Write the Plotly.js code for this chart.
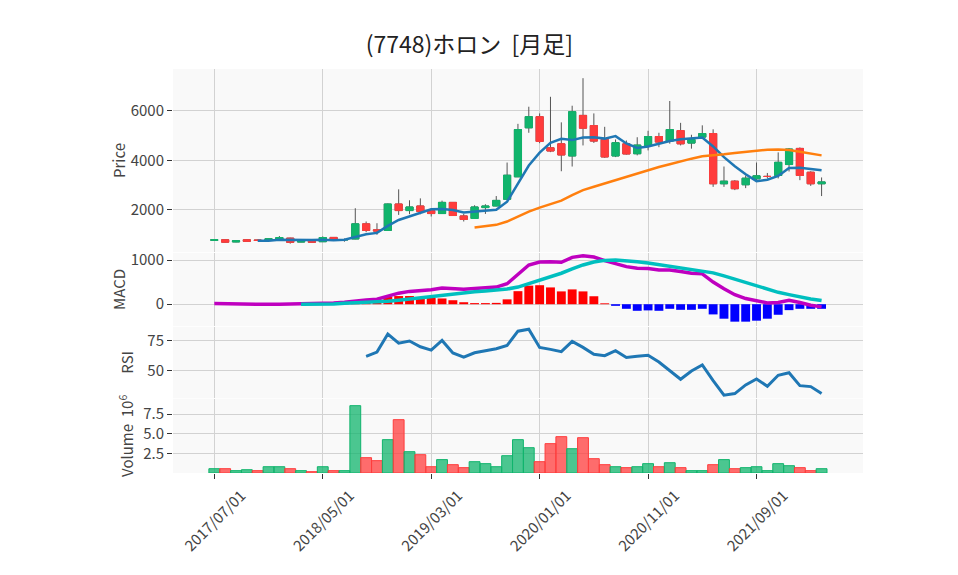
<!DOCTYPE html>
<html>
<head>
<meta charset="utf-8">
<script src="https://cdn.plot.ly/plotly-3.0.1.min.js"></script>
<style>html,body{margin:0;padding:0;background:#fff;}#chart{width:958px;height:575px;}</style>
</head>
<body>
<div id="chart"></div>
<script>
const dates = [
 '2017/07/01','2017/08/01','2017/09/01','2017/10/01','2017/11/01','2017/12/01',
 '2018/01/01','2018/02/01','2018/03/01','2018/04/01','2018/05/01','2018/06/01','2018/07/01','2018/08/01','2018/09/01','2018/10/01','2018/11/01','2018/12/01',
 '2019/01/01','2019/02/01','2019/03/01','2019/04/01','2019/05/01','2019/06/01','2019/07/01','2019/08/01','2019/09/01','2019/10/01','2019/11/01','2019/12/01',
 '2020/01/01','2020/02/01','2020/03/01','2020/04/01','2020/05/01','2020/06/01','2020/07/01','2020/08/01','2020/09/01','2020/10/01','2020/11/01','2020/12/01',
 '2021/01/01','2021/02/01','2021/03/01','2021/04/01','2021/05/01','2021/06/01','2021/07/01','2021/08/01','2021/09/01','2021/10/01','2021/11/01','2021/12/01',
 '2022/01/01','2022/02/01','2022/03/01'
];
const tickDates = ['2017/07/01','2018/05/01','2019/03/01','2020/01/01','2020/11/01','2021/09/01'];

const openP  = [775,800,710,800,790,775,800,865,705,800,720,893,795,830,1440,1200,1175,2240,1975,2160,1973,1855,2305,1760,1655,2095,2160,2430,3335,5310,5760,4505,4665,4175,5810,5400,4840,4175,4665,4265,4600,4960,4775,5200,4695,4935,5080,3055,3160,3015,3255,3350,3390,3830,4480,3520,3055];
const highP  = [810,810,770,820,800,850,950,880,810,810,935,905,850,2070,1535,1465,2260,2830,2390,2467,2000,2375,2320,1840,2190,2230,2560,3910,5470,6160,5890,6560,5530,6200,7310,5890,5350,4840,4800,4930,5190,5110,6390,5510,5030,5410,5250,3750,3200,3390,3910,3490,4320,4490,4520,3560,3310];
const lowP   = [770,680,700,720,750,770,790,640,700,680,710,790,720,820,1105,1000,1160,1800,1830,1827,1735,1840,1760,1535,1640,1840,2150,2420,3330,5110,4690,4330,3560,3750,4600,4700,4100,4130,4230,4200,4400,4530,4670,4600,4470,4900,2930,2930,2800,2880,3200,3270,3270,3550,3200,2970,2560];
const closeP = [800,700,760,735,770,840,890,695,800,695,890,800,805,1440,1175,1150,2240,1975,2120,1935,1855,2305,1775,1615,2120,2160,2385,3400,5240,5760,4760,4375,4215,5960,5295,4775,4135,4710,4255,4615,4960,4735,5240,4665,4840,5080,3055,3160,2855,3280,3375,3350,3920,4455,3390,3055,3130];

const ma5 = [null,null,null,null,755,760,800,785,800,785,795,775,800,925,1020,1075,1360,1595,1730,1885,2025,2040,2000,1900,1935,1995,2010,2335,3060,3790,4310,4705,4870,4815,4920,4925,4875,4975,4680,4500,4560,4680,4775,4850,4895,4915,4560,4130,3760,3440,3160,3215,3370,3690,3700,3640,3600];
const ma25 = [null,null,null,null,null,null,null,null,null,null,null,null,null,null,null,null,null,null,null,null,null,null,null,null,1293,1333,1400,1533,1733,1933,2093,2227,2373,2600,2800,2933,3067,3220,3360,3467,3600,3733,3840,3960,4067,4160,4187,4240,4293,4347,4387,4427,4440,4413,4347,4267,4200];

const macd = [15,8,3,0,-3,-3,-2,0,0,5,12,25,45,78,98,112,190,250,290,310,325,365,350,336,358,366,388,463,687,888,955,963,948,1060,1097,1067,985,910,851,813,806,776,776,739,701,687,500,351,216,127,75,30,37,90,37,-22,-60];
const signal = [null,null,null,null,null,null,null,null,0,0,2,7,20,28,36,45,65,92,120,150,175,205,235,258,280,298,321,343,388,463,537,612,701,798,888,955,992,1000,985,963,933,895,858,828,798,761,709,642,567,485,403,328,269,216,164,119,82];
const hist = [null,null,null,null,null,null,null,null,0,5,10,18,25,50,62,67,165,185,185,150,140,130,90,45,25,25,30,110,295,420,430,380,290,335,290,180,20,-37,-104,-149,-140,-149,-104,-127,-127,-104,-231,-328,-395,-395,-373,-328,-239,-134,-104,-104,-104];

const rsi = [null,null,null,null,null,null,null,null,null,null,null,null,null,null,62,65.5,80.2,72.8,74.5,69.8,67.1,75,64.7,61.4,64.9,66.8,68.2,70.9,82.6,84.2,69.3,67.7,65.8,74.2,69.3,63.6,62.5,66.6,61.1,62,62.8,57.3,50.3,43.2,50,54.9,42.1,30.2,31.5,38.6,43.5,37.5,46.5,48.6,38,37.2,31.5];

const volume = [0.55,0.55,0.3,0.42,0.3,0.8,0.8,0.55,0.3,0.17,0.8,0.3,0.3,8.56,1.95,1.57,4.24,6.78,2.71,2.33,0.8,1.7,1.06,0.68,1.44,1.19,0.8,2.2,4.24,3.22,1.44,3.73,4.62,3.09,4.49,1.82,1.06,0.8,0.68,0.8,1.19,0.8,1.31,0.68,0.3,0.3,1.06,1.7,0.55,0.68,0.8,0.3,1.19,0.93,0.68,0.3,0.55];
const volDir = ['u','d','u','u','d','u','u','d','u','d','u','d','u','u','d','d','u','d','u','d','d','u','d','d','u','u','u','u','u','u','d','d','d','u','d','d','d','u','d','u','u','d','u','d','u','u','d','u','d','u','u','u','u','u','d','d','u'];

const GREEN = 'rgb(16,180,108)';
const RED = 'rgb(255,60,60)';
const GREEN_A = 'rgba(16,180,108,0.75)';
const RED_A = 'rgba(255,60,60,0.75)';

const bodyHigh = openP.map((o,i)=>Math.max(o,closeP[i]));
const bodyLow = openP.map((o,i)=>Math.min(o,closeP[i]));

const traces = [
  {type:'candlestick', x:dates, open:openP, high:highP, low:lowP, close:closeP,
   xaxis:'x', yaxis:'y', whiskerwidth:0,
   increasing:{line:{color:'#555555', width:1}, fillcolor:GREEN},
   decreasing:{line:{color:'#555555', width:1}, fillcolor:RED}, hoverinfo:'skip'},
  {type:'candlestick', x:dates, open:openP, high:bodyHigh, low:bodyLow, close:closeP,
   xaxis:'x', yaxis:'y', whiskerwidth:0,
   increasing:{line:{color:GREEN, width:1}, fillcolor:GREEN},
   decreasing:{line:{color:RED, width:1}, fillcolor:RED}},
  {type:'scatter', mode:'lines', x:dates, y:ma5, xaxis:'x', yaxis:'y', line:{color:'#1f77b4', width:2.5}},
  {type:'scatter', mode:'lines', x:dates, y:ma25, xaxis:'x', yaxis:'y', line:{color:'#ff7f0e', width:2.5}},
  {type:'bar', x:dates, y:hist, xaxis:'x2', yaxis:'y2', width:0.82,
   marker:{color:hist.map(v=> (v!==null && v<0) ? '#0000ff' : '#ff0000')}},
  {type:'scatter', mode:'lines', x:dates, y:macd, xaxis:'x2', yaxis:'y2', line:{color:'#bf00bf', width:3.5}},
  {type:'scatter', mode:'lines', x:dates, y:signal, xaxis:'x2', yaxis:'y2', line:{color:'#00bfbf', width:3.5}},
  {type:'scatter', mode:'lines', x:dates, y:rsi, xaxis:'x3', yaxis:'y3', line:{color:'#1f77b4', width:3}},
  {type:'bar', x:dates, y:volume, xaxis:'x4', yaxis:'y4', width:1,
   marker:{color:volDir.map(d=> d==='u'?GREEN_A:RED_A), line:{color:volDir.map(d=> d==='u'?GREEN:RED), width:1}}}
];

const xRange = [-3.81, 59.82];
const gridC = '#d2d2d2';
const FS = 15;
function xax(anchor, show){
  const a = {type:'category', range:xRange, anchor:anchor, domain:[0,1],
    tickvals:tickDates, showgrid:true, gridcolor:gridC, gridwidth:1, zeroline:false,
    showticklabels:show, ticks: show?'outside':'', ticklen:5, tickcolor:'#333',
    tickangle:-45, tickfont:{size:FS, color:'#444'}, showline:false,
    rangeslider:{visible:false}, fixedrange:true};
  if (show) { a.ticklabelshift = 27; a.ticklabelstandoff = 2; }
  return a;
}
function yax(domain, range, tickvals, ticktext, title, anchor){
  const a = {domain:domain, range:range, anchor:anchor, tickvals:tickvals,
    showgrid:true, gridcolor:gridC, gridwidth:1, zeroline:false, showline:false,
    ticks:'outside', ticklen:5, tickcolor:'#333', tickfont:{size:FS, color:'#444'},
    title:{text:title, font:{size:FS, color:'#444'}}, fixedrange:true};
  if (ticktext) a.ticktext = ticktext;
  return a;
}

const layout = {
  width:958, height:575,
  margin:{l:173, r:95, t:69, b:102, pad:0},
  paper_bgcolor:'#ffffff', plot_bgcolor:'#f9f9f9',
  showlegend:false,
  font:{family:'"Noto Sans CJK JP", "Noto Sans", sans-serif', size:FS, color:'#444'},
  title:{text:'(7748)ホロン  [月足]', x:0.49, xanchor:'center', xref:'container',
         y:0.922, yanchor:'middle', yref:'container', font:{size:23, color:'#222'}},
  boxgap:0.34, boxgroupgap:0,
  xaxis: xax('y', false),
  xaxis2: Object.assign(xax('y2', false), {matches:'x'}),
  xaxis3: Object.assign(xax('y3', false), {matches:'x'}),
  xaxis4: Object.assign(xax('y4', true), {matches:'x'}),
  yaxis:  yax([0.547,1], [305,7680], [2000,4000,6000], null, 'Price', 'x'),
  yaxis2: yax([0.364,0.545], [-492,1163], [0,1000], null, 'MACD', 'x2'),
  yaxis3: yax([0.186,0.362], [28,86.2], [50,75], null, 'RSI', 'x3'),
  yaxis4: yax([0,0.184], [0,9.45], [2.5,5,7.5], ['2.5','5.0','7.5'], 'Volume  10<sup>6</sup>', 'x4')
};

Plotly.newPlot('chart', traces, layout, {staticPlot:true, displayModeBar:false});
</script>
</body>
</html>
